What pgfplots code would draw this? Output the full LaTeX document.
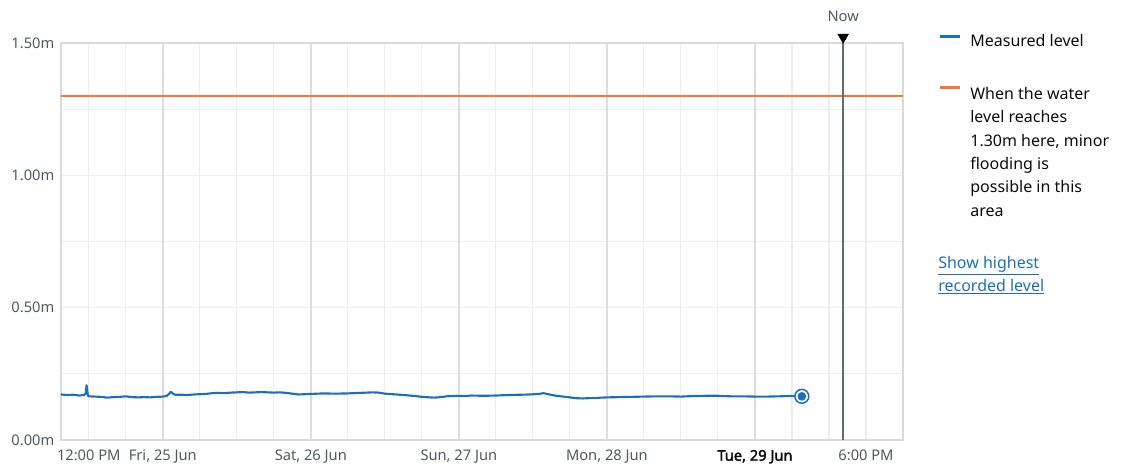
\documentclass[border=0pt]{standalone}
\usepackage{fontspec}
\setmainfont{Noto Sans}[BoldFont={Noto Sans}, BoldFeatures={FakeBold=2.2}]
\usepackage{pgfplots}
\pgfplotsset{compat=1.18}
\definecolor{govblue}{HTML}{1D70B8}
\definecolor{govorange}{HTML}{F47738}
\definecolor{govgrey}{HTML}{505A5F}
\definecolor{nowgrey}{HTML}{626A6E}
\definecolor{govblack}{HTML}{0B0C0C}
\definecolor{gridlight}{HTML}{EEEEEE}
\definecolor{griddark}{HTML}{DDDDDD}
\definecolor{framegrey}{HTML}{DADADA}
\newcommand\legfont{\fontsize{12}{14.5}\selectfont}
\newcommand\tickfont{\fontsize{11}{13}\selectfont}
\begin{document}
\begin{tikzpicture}
\useasboundingbox (0,0) rectangle (846pt,351pt);
\begin{axis}[
  at={(45.75pt,21pt)}, anchor=south west,
  scale only axis, width=631.5pt, height=297.75pt,
  xmin=-16.5, xmax=120, ymin=0, ymax=1.5,
  clip=false,
  axis line style={framegrey, line width=1.3pt},
  major tick length=0pt, minor tick length=0pt,
  xtick={-12,0,24,48,72,96,114},
  xticklabels={12:00 PM, {Fri, 25 Jun}, {Sat, 26 Jun}, {Sun, 27 Jun}, {Mon, 28 Jun}, {{\bfseries\color{govblack}Tue, 29 Jun}}, 6:00 PM},
  minor xtick={-6,6,12,18,30,36,42,54,60,66,78,84,90,102,108,120},
  ytick={0,0.5,1,1.5},
  yticklabels={0.00m,0.50m,1.00m,1.50m},
  minor ytick={0.25,0.75,1.25},
  grid=both,
  major grid style={gridlight, line width=0.8pt},
  minor grid style={gridlight, line width=0.8pt},
  extra x ticks={0,24,48,72,96},
  extra x tick labels={},
  extra x tick style={major grid style={griddark, line width=1.2pt}},
  tick label style={font=\tickfont, text=govgrey},
  xticklabel style={yshift=-4pt},
  yticklabel style={xshift=-1.5pt},
  legend style={at={(1.0415,1.03)}, anchor=north west, draw=none, fill=none,
    inner sep=0pt, row sep=22pt, column sep=4.5pt, font=\legfont, text=govblack,
    cells={anchor=base west}},
  legend cell align=left,
  legend image code/.code={\draw[#1, line width=2.6pt, line cap=butt] (0pt,0.36em) -- (15pt,0.36em);},
]
\addplot[govblue, line width=1.6pt, line join=round] coordinates {
(-16.5,0.172) (-15.5,0.170) (-14.5,0.171) (-13.5,0.168) (-12.8,0.170) (-12.5,0.175)
(-12.35,0.207) (-12.15,0.170) (-12.0,0.165) (-11,0.164) (-10,0.163) (-9,0.160)
(-8,0.162) (-7,0.163) (-6,0.165) (-5,0.162) (-4,0.161) (-3,0.162) (-2,0.161)
(-1,0.163) (0,0.164) (0.6,0.166) (1.0,0.174) (1.3,0.182) (1.6,0.176) (2.0,0.171)
(3,0.171) (4,0.170) (5,0.172) (6,0.173) (7,0.174) (8,0.177) (9,0.178) (10,0.177)
(11,0.179) (12,0.180) (13,0.181) (14,0.179) (15,0.180) (16,0.181) (17,0.180)
(18,0.179) (19,0.180) (20,0.178) (21,0.175) (22,0.172) (23,0.173) (24,0.174)
(25,0.175) (26,0.176) (28,0.175) (30,0.176) (32,0.178) (34,0.180) (35,0.179)
(36,0.175) (37.9,0.172) (39,0.170) (40,0.168) (41,0.166) (42,0.163) (43.3,0.161)
(44,0.160) (45,0.162) (46,0.165) (47.6,0.167) (49,0.166) (50,0.168) (52,0.167)
(54,0.168) (56,0.170) (58,0.171) (59.5,0.172) (61,0.174) (61.7,0.177) (62.5,0.173)
(63.5,0.168) (64.9,0.164) (66,0.161) (67,0.158) (68.1,0.157) (69,0.158) (70,0.158)
(71,0.160) (72,0.161) (74,0.162) (76,0.163) (78,0.164) (80,0.165) (82,0.165)
(84,0.164) (86,0.166) (88,0.167) (90,0.167) (92,0.165) (94,0.165) (96,0.164)
(98,0.164) (100,0.165) (101.1,0.166) (102,0.166) (103.6,0.165)
};
\addlegendentry{Measured level}
\addplot[govorange, line width=1.9pt] coordinates {(-16.5,1.30) (120,1.30)};
\addlegendentry{{\def\arraystretch{1.21}\begin{tabular}[t]{@{}l@{}}When the water\\level reaches\\1.30m here, minor\\flooding is\\possible in this\\area\end{tabular}}}
% now line
\addplot[nowgrey, line width=1.4pt, forget plot] coordinates {(110.3,0) (110.3,1.5)};
\addplot[only marks, mark=triangle*, mark size=4.6pt, black, forget plot,
  every mark/.append style={rotate=180}] coordinates {(110.3,1.522)};
\node[font=\tickfont, text=govgrey, anchor=center] at (axis cs:110.3,1.5) [yshift=20pt] {Now};
% end marker
\addplot[only marks, mark=*, mark size=5.2pt, forget plot,
  mark options={fill=white, draw=govblue, line width=1.1pt}] coordinates {(103.6,0.165)};
\addplot[only marks, mark=*, mark size=3.0pt, forget plot,
  mark options={fill=govblue, draw=govblue}] coordinates {(103.6,0.165)};
% link
\node[anchor=base west, inner sep=0pt, font=\legfont, text=govblue, align=left]
  at (rel axis cs:1.0416,0.433)
  {{\def\arraystretch{1.21}\begin{tabular}[t]{@{}l@{}}\underline{Show highest}\\\underline{recorded level}\end{tabular}}};
\end{axis}
\end{tikzpicture}
\end{document}
